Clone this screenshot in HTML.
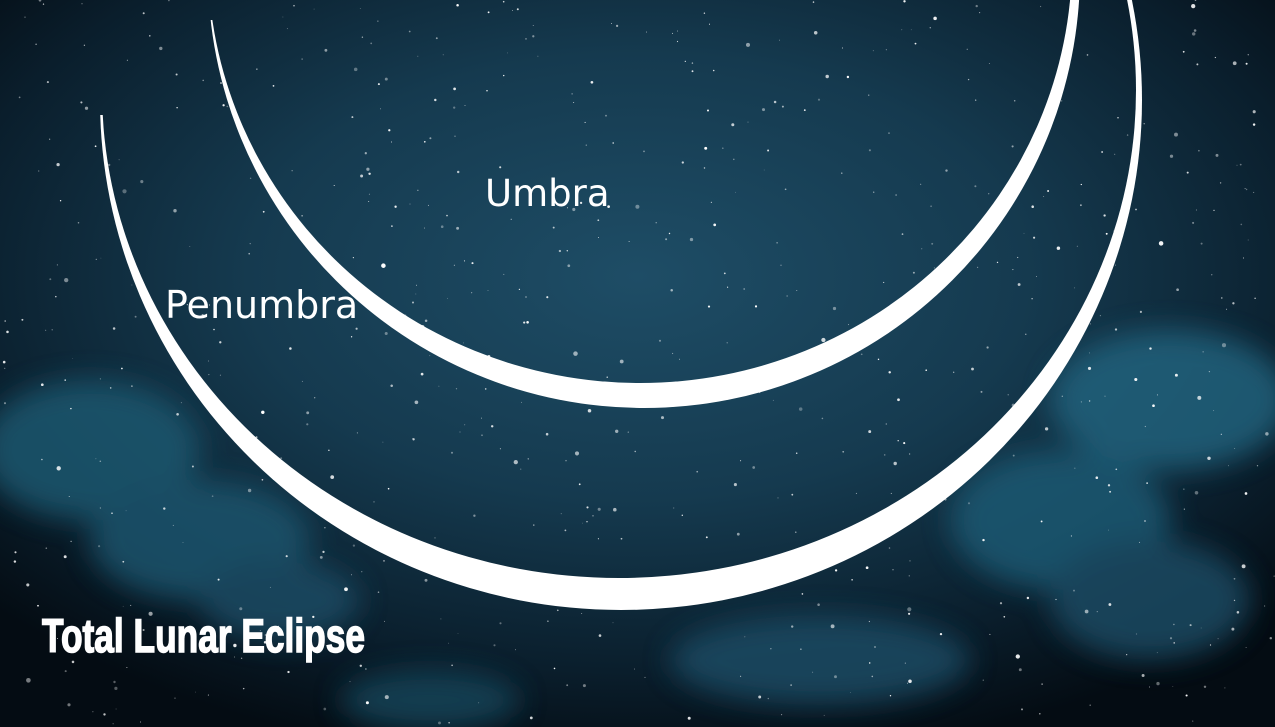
<!DOCTYPE html>
<html><head><meta charset="utf-8"><style>
html,body{margin:0;padding:0;background:#06131c;}
svg{display:block}
</style></head><body>
<svg width="1275" height="727" viewBox="0 0 1275 727">
<defs>
<radialGradient id="sky" cx="0.5" cy="0.38" r="0.68">
<stop offset="0" stop-color="#1e4d66"/>
<stop offset="0.45" stop-color="#153a4f"/>
<stop offset="0.8" stop-color="#0a1e2c"/>
<stop offset="1" stop-color="#040c13"/>
</radialGradient>
<filter id="blur" x="-20%" y="-20%" width="140%" height="140%"><feGaussianBlur stdDeviation="14"/></filter>
<mask id="m1"><rect width="1275" height="727" fill="black"/><ellipse cx="621" cy="100" rx="521" ry="510" fill="white"/><ellipse cx="619" cy="90" rx="517" ry="488" fill="black"/><rect x="0" y="0" width="640" height="115" fill="black"/></mask>
<mask id="m2"><rect width="1275" height="727" fill="black"/><circle cx="644" cy="-28" r="436" fill="white"/><ellipse cx="640" cy="-40" rx="432" ry="423" fill="black"/><rect x="0" y="-500" width="640" height="520" fill="black"/></mask>
</defs>
<rect width="1275" height="727" fill="url(#sky)"/>
<g filter="url(#blur)" opacity="0.8">
<ellipse cx="90" cy="450" rx="110" ry="70" fill="#1f5a72"/>
<ellipse cx="200" cy="540" rx="110" ry="60" fill="#1d5670"/>
<ellipse cx="280" cy="600" rx="80" ry="40" fill="#1a4e66"/>
<ellipse cx="1170" cy="400" rx="120" ry="70" fill="#236580"/>
<ellipse cx="1060" cy="520" rx="110" ry="70" fill="#1f5c76"/>
<ellipse cx="1150" cy="600" rx="100" ry="60" fill="#1a4e66"/>
<ellipse cx="820" cy="660" rx="150" ry="45" fill="#1a4e66"/>
<ellipse cx="430" cy="700" rx="90" ry="30" fill="#17465c"/>
</g>
<g id="stars"></g>
<rect width="1275" height="727" fill="white" mask="url(#m1)"/>
<rect width="1275" height="727" fill="white" mask="url(#m2)"/>
<text x="485" y="206" font-family="'DejaVu Sans','Liberation Sans',sans-serif" font-size="37" fill="#fff">Umbra</text>
<text x="165" y="318" font-family="'DejaVu Sans','Liberation Sans',sans-serif" font-size="38" fill="#fff">Penumbra</text>
<text x="42" y="652" font-family="'Liberation Sans Narrow','Liberation Sans',sans-serif" font-weight="bold" font-size="47" textLength="323" lengthAdjust="spacingAndGlyphs" fill="#fff" stroke="#fff" stroke-width="1.5">Total Lunar Eclipse</text>
</svg>
<script>
var g=document.getElementById('stars');
var s=12345;function r(){s=(s*16807)%2147483647;return s/2147483647;}
for(var i=0;i<700;i++){
var c=document.createElementNS('http://www.w3.org/2000/svg','circle');


c.setAttribute('cx',(r()*1275).toFixed(1));c.setAttribute('cy',(r()*727).toFixed(1));
c.setAttribute('r',(0.4+r()*r()*2).toFixed(2));c.setAttribute('fill','#fff');c.setAttribute('opacity',(0.3+r()*0.7).toFixed(2));
g.appendChild(c);}
</script>
</body></html>
